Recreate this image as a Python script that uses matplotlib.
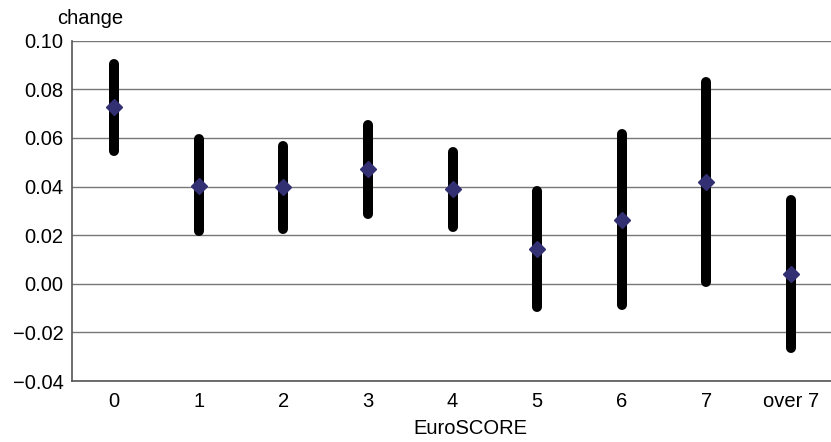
import numpy as np
import matplotlib
matplotlib.use('Agg')
import matplotlib.pyplot as plt

plt.rcParams['font.family'] = ['Liberation Sans', 'DejaVu Sans']

# datos
categorias = ['0', '1', '2', '3', '4', '5', '6', '7', 'over 7']
cambio = [0.0726, 0.0404, 0.0398, 0.0471, 0.0389, 0.0144, 0.0263, 0.0419, 0.0039]
ic_bajo = [0.0547, 0.0216, 0.0225, 0.0285, 0.0233, -0.0095, -0.0088, 0.0008, -0.0266]
ic_alto = [0.0904, 0.0595, 0.0568, 0.0655, 0.0540, 0.0382, 0.0616, 0.0830, 0.0345]
yticks = [-0.04, -0.02, 0.00, 0.02, 0.04, 0.06, 0.08, 0.10]

tam = 14.5

fig = plt.figure(figsize=(8.31, 4.42), dpi=100)
ax = fig.add_axes([0.0866, 0.138, 0.916, 0.770])

x = np.arange(len(categorias))
for xi, lo, hi in zip(x, ic_bajo, ic_alto):
    ax.plot([xi, xi], [lo, hi], color='black', lw=7.2, solid_capstyle='round', zorder=3)
ax.plot(x, cambio, linestyle='none', marker='D', markersize=7.8,
        color='#332f73', markeredgecolor='#332f73', zorder=4)

ax.set_xlim(-0.5, len(categorias) - 0.5)
ax.set_ylim(-0.04, 0.10)
ax.set_yticks(yticks)
ax.set_yticklabels([('%.2f' % v).replace('-', '\u2212') for v in yticks])
ax.set_xticks(x)
ax.set_xticklabels(categorias)
ax.tick_params(axis='both', length=0, labelsize=tam)
ax.tick_params(axis='y', pad=6)
ax.tick_params(axis='x', pad=8)

ax.grid(axis='y', color='#777777', lw=1.0)
ax.set_axisbelow(True)
for s in ['right', 'top']:
    ax.spines[s].set_visible(False)
ax.spines['left'].set_color('#555555')
ax.spines['bottom'].set_color('#555555')
ax.spines['left'].set_linewidth(1.2)
ax.spines['bottom'].set_linewidth(1.2)

fig.text(470 / 831, 1 - 434 / 442, 'EuroSCORE', fontsize=tam, ha='center', va='baseline')
fig.text(57 / 831, 1 - 23.5 / 442, 'change', fontsize=tam, ha='left', va='baseline')

fig.savefig('out.png', dpi=100)
